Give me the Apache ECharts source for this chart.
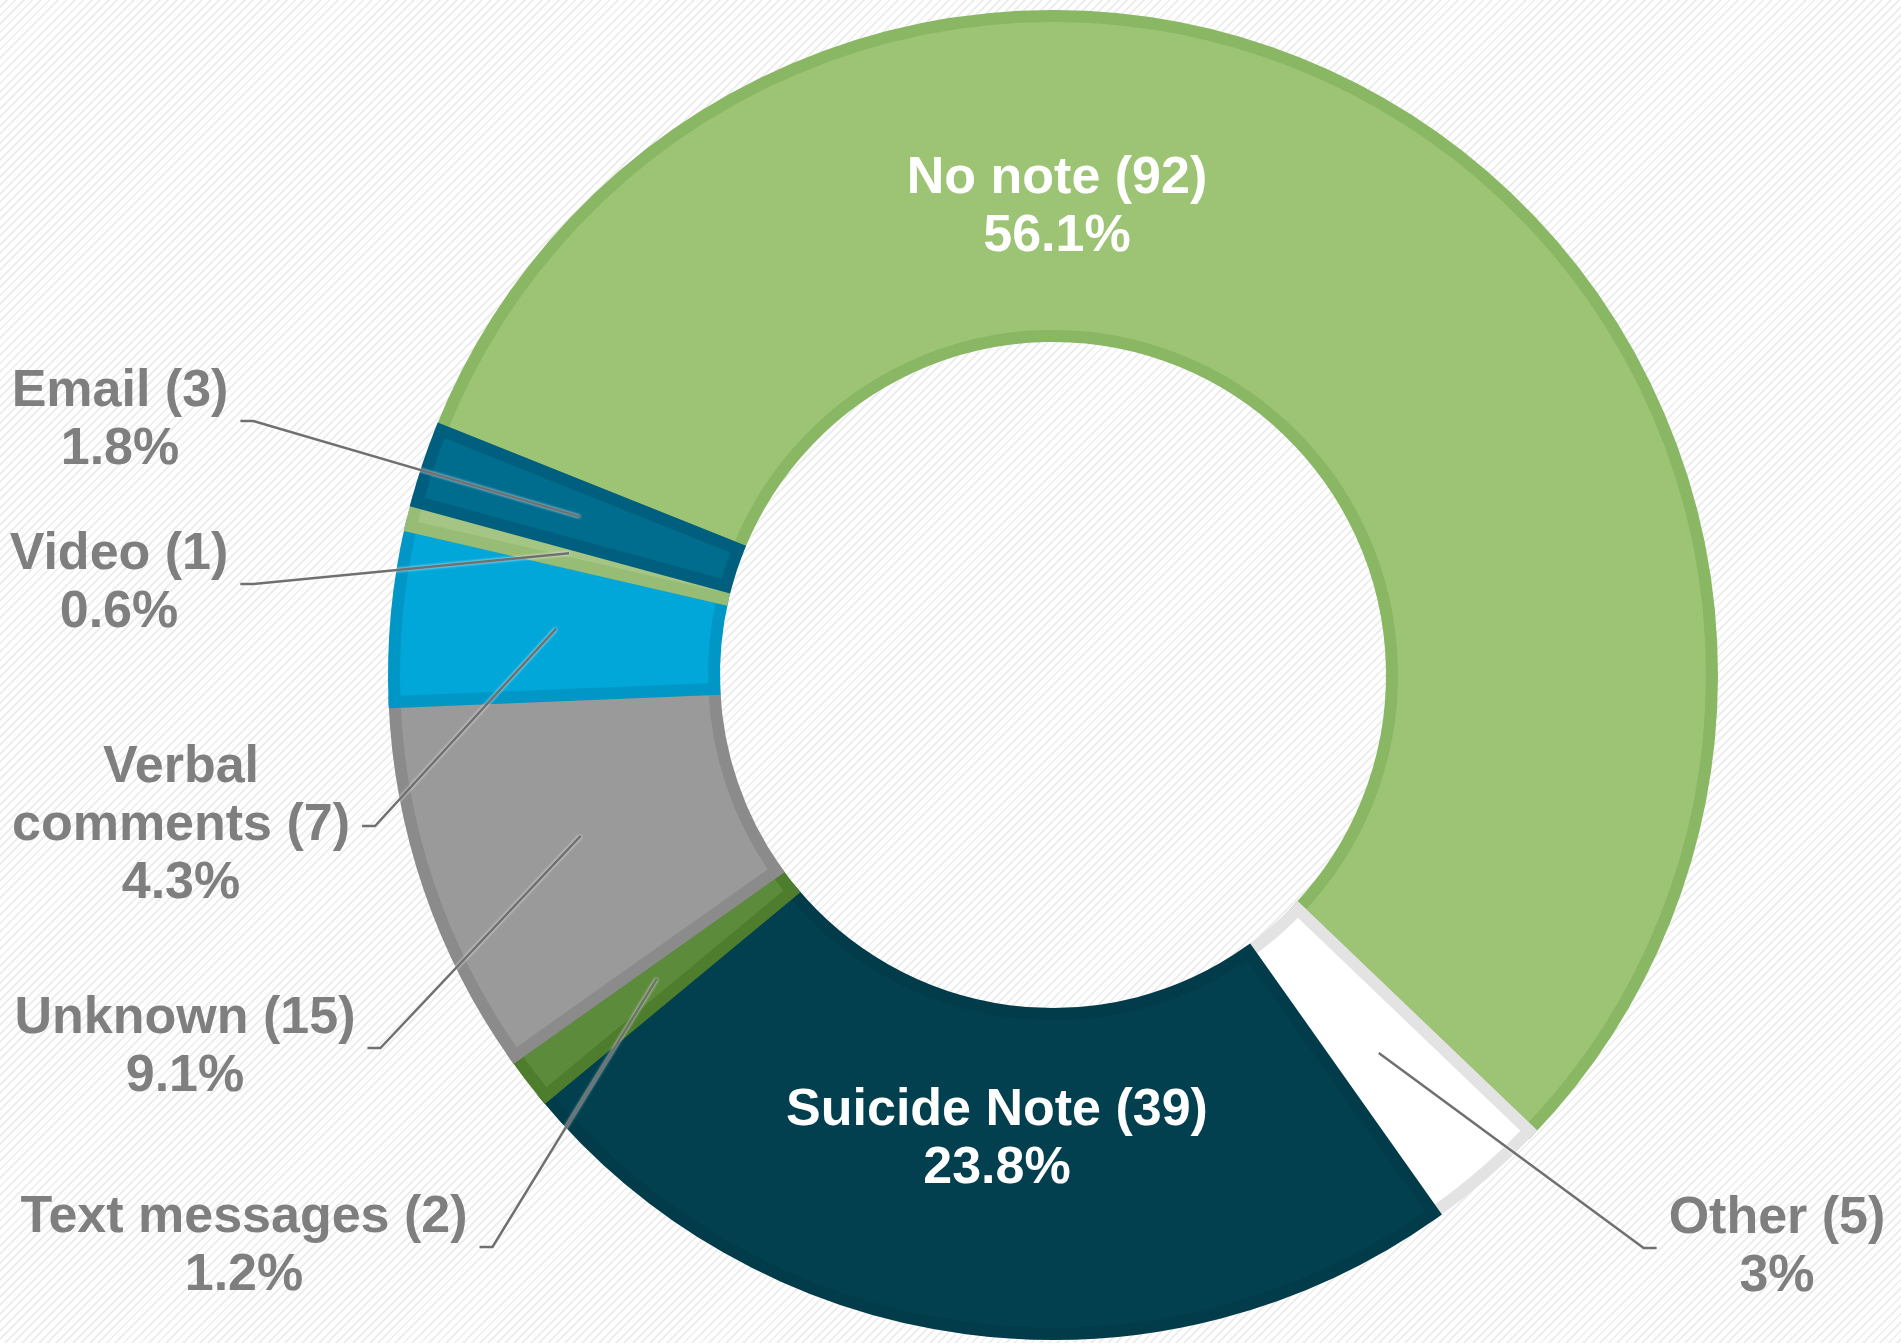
<!DOCTYPE html>
<html>
<head>
<meta charset="utf-8">
<script src="https://cdn.jsdelivr.net/npm/echarts@6/dist/echarts.min.js"></script>
<style>
  html, body { margin: 0; padding: 0; }
  body {
    width: 1901px; height: 1343px; overflow: hidden;
    background: repeating-linear-gradient(135deg, #ffffff 0px, #ffffff 4px, #eeeeee 4px, #eeeeee 6px);
  }
  #chart { width: 1901px; height: 1343px; }
</style>
</head>
<body>
<div id="chart"></div>
<script>
// ---- data ----
const categories = ['No note', 'Other', 'Suicide Note', 'Text messages', 'Unknown', 'Verbal comments', 'Video', 'Email'];
const counts = [92, 5, 39, 2, 15, 7, 1, 3];

// ---- styles (not data) ----
const fillColors = ['#9DC474', '#FFFFFF', '#02404F', '#5D8B3C', '#9A9A9A', '#00A7D8', '#A4C584', '#006C8E'];
const borderColors = ['#89B763', '#E3E3E3', '#023B4A', '#4E7D2E', '#8B8B8B', '#0097C6', '#97BC76', '#005E7E'];
const insideLabels = ['No note', 'Suicide Note'];
// label anchor spots (text centre), layout only
const labelSpots = {
  'No note': [1057, 208],
  'Suicide Note': [997, 1140],
  'Other': [1777, 1248],
  'Text messages': [244, 1247],
  'Unknown': [185, 1048],
  'Verbal comments': [181, 826],
  'Video': [119, 584],
  'Email': [120, 421]
};

const total = counts.reduce((a, b) => a + b, 0);
function pct(v) { return parseFloat((v / total * 100).toFixed(1)); }

const chart = echarts.init(document.getElementById('chart'), null, { renderer: 'canvas' });

const FONT = '"Liberation Sans", Arial, Helvetica, sans-serif';
const CENTER = [1053, 675];
const RADIUS = [339, 659];
const START = 158.2;

// base ring: the coloured slices
const ringData = categories.map((name, i) => ({
  name: name,
  value: counts[i],
  itemStyle: { color: fillColors[i], borderColor: borderColors[i] }
}));

// overlay (transparent slices) carrying labels and leader lines above the ring
const labelData = categories.map((name, i) => {
  const inside = insideLabels.indexOf(name) >= 0;
  return {
    name: name,
    value: counts[i],
    label: inside ? { position: 'inside', color: '#FFFFFF' } : { position: 'outside', color: '#7F7F7F' },
    labelLine: { show: !inside }
  };
});

chart.setOption({
  backgroundColor: 'transparent',
  animation: false,
  series: [{
    type: 'pie',
    z: 2,
    center: CENTER,
    radius: RADIUS,
    startAngle: START,
    clockwise: true,
    silent: true,
    itemStyle: { borderWidth: 12, borderJoin: 'miter' },
    emphasis: { disabled: true },
    label: { show: false },
    labelLine: { show: false },
    data: ringData
  }, {
    type: 'pie',
    z: 5,
    center: CENTER,
    radius: RADIUS,
    startAngle: START,
    clockwise: true,
    silent: true,
    avoidLabelOverlap: false,
    itemStyle: { color: 'rgba(0,0,0,0)', borderWidth: 0 },
    emphasis: { disabled: true },
    label: {
      show: true,
      fontFamily: FONT,
      fontWeight: 'bold',
      fontSize: 52,
      lineHeight: 58,
      align: 'center',
      formatter: function (p) {
        const nm = p.name === 'Verbal comments' ? 'Verbal\ncomments' : p.name;
        return nm + ' (' + p.value + ')\n' + pct(p.value) + '%';
      }
    },
    labelLine: {
      show: true,
      showAbove: true,
      lineStyle: { color: '#707070', width: 2.5, shadowColor: 'rgba(255,255,255,0.9)', shadowBlur: 3 }
    },
    labelLayout: function (params) {
      const name = categories[params.dataIndex];
      const spot = labelSpots[name];
      const res = { x: spot[0], y: spot[1], align: 'center', verticalAlign: 'middle' };
      if (insideLabels.indexOf(name) < 0) {
        let lay = null;
        try { lay = chart.getModel().getSeriesByIndex(params.seriesIndex).getData().getItemLayout(params.dataIndex); } catch (e) { lay = null; }
        if (lay) {
          const mid = (lay.startAngle + lay.endAngle) / 2;
          const rm = (lay.r + lay.r0) / 2;
          const sx = lay.cx + rm * Math.cos(mid);
          const sy = lay.cy + rm * Math.sin(mid);
          const w = params.labelRect.width;
          const labelLeft = spot[0] < sx;
          const endX = labelLeft ? spot[0] + w / 2 + 12 : spot[0] - w / 2 - 12;
          const kneeX = labelLeft ? endX + 13 : endX - 13;
          res.labelLinePoints = [[sx, sy], [kneeX, spot[1]], [endX, spot[1]]];
        }
      }
      return res;
    },
    data: labelData
  }]
});
</script>
</body>
</html>
